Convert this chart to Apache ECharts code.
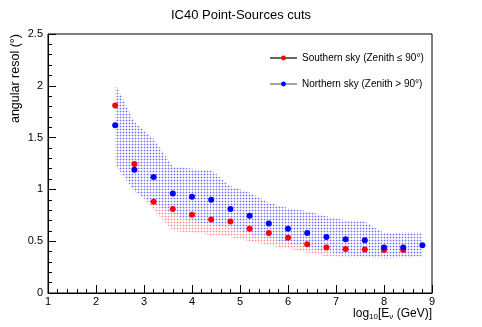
<!DOCTYPE html>
<html>
<head>
  <meta charset="UTF-8">
  <title>IC40 Point-Sources cuts</title>
  <script src="https://cdn.jsdelivr.net/npm/echarts@6/dist/echarts.min.js"></script>
  <style>
    html, body { margin: 0; padding: 0; background: #fff; }
  </style>
</head>
<body>
  <div id="chart" style="width:482px; height:327px;"></div>
  <script>
    // log10(E) bin centres
    var blueX = [2.4, 2.8, 3.2, 3.6, 4.0, 4.4, 4.8, 5.2, 5.6, 6.0, 6.4, 6.8, 7.2, 7.6, 8.0, 8.4, 8.8];
    var redX  = [2.4, 2.8, 3.2, 3.6, 4.0, 4.4, 4.8, 5.2, 5.6, 6.0, 6.4, 6.8, 7.2, 7.6, 8.0, 8.4];

    // Southern sky (Zenith <= 90)
    var southVal  = [1.81, 1.245, 0.88, 0.81, 0.756, 0.71, 0.69, 0.62, 0.58, 0.534, 0.47, 0.44, 0.425, 0.42, 0.415, 0.415];
    var southLow  = [1.30, 1.02, 0.80, 0.60, 0.58, 0.56, 0.54, 0.50, 0.46, 0.43, 0.39, 0.355, 0.345, 0.34, 0.335, 0.34];
    var southHigh = [1.98, 1.50, 1.05, 0.98, 0.93, 0.90, 0.86, 0.78, 0.73, 0.68, 0.62, 0.58, 0.55, 0.53, 0.53, 0.52];

    // Northern sky (Zenith > 90)
    var northVal  = [1.62, 1.19, 1.12, 0.96, 0.93, 0.90, 0.81, 0.746, 0.67, 0.62, 0.58, 0.54, 0.52, 0.51, 0.44, 0.44, 0.46];
    var northLow  = [1.24, 0.98, 0.86, 0.76, 0.69, 0.66, 0.63, 0.57, 0.53, 0.48, 0.44, 0.40, 0.37, 0.35, 0.335, 0.34, 0.35];
    var northHigh = [2.02, 1.65, 1.49, 1.22, 1.20, 1.19, 1.03, 0.97, 0.87, 0.82, 0.79, 0.74, 0.70, 0.69, 0.58, 0.58, 0.59];

    var FONT = '"Liberation Sans", Arial, sans-serif';

    // root-like dotted mesh fill, opaque pixels so the later band hides the earlier one
    function mesh(dot, line) {
      var c = document.createElement('canvas');
      c.width = 3; c.height = 3;
      var ctx = c.getContext('2d');
      ctx.fillStyle = line;
      ctx.fillRect(0, 0, 3, 1);
      ctx.fillRect(0, 0, 1, 3);
      ctx.fillStyle = dot;
      ctx.fillRect(0, 0, 1, 1);
      return { image: c, repeat: 'repeat' };
    }

    function band(xs, lo, hi, fill, z) {
      return {
        type: 'custom',
        z: z,
        silent: true,
        data: xs.map(function (x, i) { return [x, lo[i], hi[i]]; }),
        encode: { x: 0, y: [1, 2] },
        renderItem: function (params, api) {
          if (params.dataIndex !== 0) return;
          var pts = [];
          for (var i = 0; i < xs.length; i++) pts.push(api.coord([xs[i], hi[i]]));
          for (var j = xs.length - 1; j >= 0; j--) pts.push(api.coord([xs[j], lo[j]]));
          return { type: 'polygon', shape: { points: pts }, style: { fill: fill } };
        }
      };
    }

    function pairs(xs, ys) {
      return xs.map(function (x, i) { return [x, ys[i]]; });
    }

    var chart = echarts.init(document.getElementById('chart'), null, { renderer: 'canvas' });

    chart.setOption({
      backgroundColor: '#fff',
      animation: false,
      title: {
        text: 'IC40 Point-Sources cuts',
        left: 'center',
        top: 4,
        textStyle: { fontFamily: FONT, fontSize: 13, fontWeight: 'normal', color: '#000' }
      },
      legend: {
        orient: 'vertical',
        left: 264,
        top: 48,
        itemWidth: 27,
        itemHeight: 6,
        itemGap: 16,
        textStyle: { fontFamily: FONT, fontSize: 10, color: '#000' },
        data: [
          { name: 'Southern sky (Zenith \u2264 90\u00b0)', lineStyle: { color: '#666', width: 2, opacity: 1 } },
          { name: 'Northern sky (Zenith > 90\u00b0)', lineStyle: { color: '#444', width: 1, opacity: 1 } }
        ]
      },
      grid: {
        left: 48, right: 50, top: 34, bottom: 34,
        show: true, borderColor: '#000', borderWidth: 1
      },
      xAxis: {
        type: 'value',
        min: 1, max: 9, interval: 1,
        name: '{n|log}{s|10}{n|[E}{s|\u03bd}{n| (GeV)]}',
        nameLocation: 'end',
        nameGap: 0,
        nameTextStyle: {
          align: 'right', verticalAlign: 'top', padding: [13, 0, 0, 0],
          rich: {
            n: { fontFamily: FONT, fontSize: 12, color: '#000', lineHeight: 15 },
            s: { fontFamily: FONT, fontSize: 8, color: '#000', lineHeight: 9, verticalAlign: 'bottom' }
          }
        },
        axisLine: { lineStyle: { color: '#000', width: 1 } },
        axisTick: { inside: true, length: 8, lineStyle: { color: '#000' } },
        minorTick: { show: true, splitNumber: 5, length: 4, lineStyle: { color: '#000' } },
        splitLine: { show: false },
        axisLabel: { fontFamily: FONT, fontSize: 11, color: '#000', margin: 3 }
      },
      yAxis: {
        type: 'value',
        min: 0, max: 2.5, interval: 0.5,
        name: 'angular resol (\u00b0)',
        nameLocation: 'end',
        nameRotate: 90,
        nameGap: 0,
        nameTextStyle: {
          fontFamily: FONT, fontSize: 12.5, color: '#000',
          align: 'right', verticalAlign: 'bottom', padding: [0, 0, 26, 0]
        },
        axisLine: { lineStyle: { color: '#000', width: 1 } },
        axisTick: { inside: true, length: 8, lineStyle: { color: '#000' } },
        minorTick: { show: true, splitNumber: 5, length: 4, lineStyle: { color: '#000' } },
        splitLine: { show: false },
        axisLabel: { fontFamily: FONT, fontSize: 11, color: '#000', margin: 5 }
      },
      series: [
        band(redX, southLow, southHigh, mesh('#ff8a8a', '#ffdcdc'), 1),
        band(blueX, northLow, northHigh, mesh('#6a6aff', '#d4d4ff'), 2),
        {
          name: 'Southern sky (Zenith \u2264 90\u00b0)',
          type: 'line',
          z: 3,
          data: pairs(redX, southVal),
          symbol: 'circle',
          symbolSize: 6,
          showSymbol: true,
          lineStyle: { width: 0, opacity: 0 },
          itemStyle: { color: '#ff0000' }
        },
        {
          name: 'Northern sky (Zenith > 90\u00b0)',
          type: 'line',
          z: 4,
          data: pairs(blueX, northVal),
          symbol: 'circle',
          symbolSize: 6,
          showSymbol: true,
          lineStyle: { width: 0, opacity: 0 },
          itemStyle: { color: '#0000ff' }
        }
      ]
    });
  </script>
</body>
</html>
